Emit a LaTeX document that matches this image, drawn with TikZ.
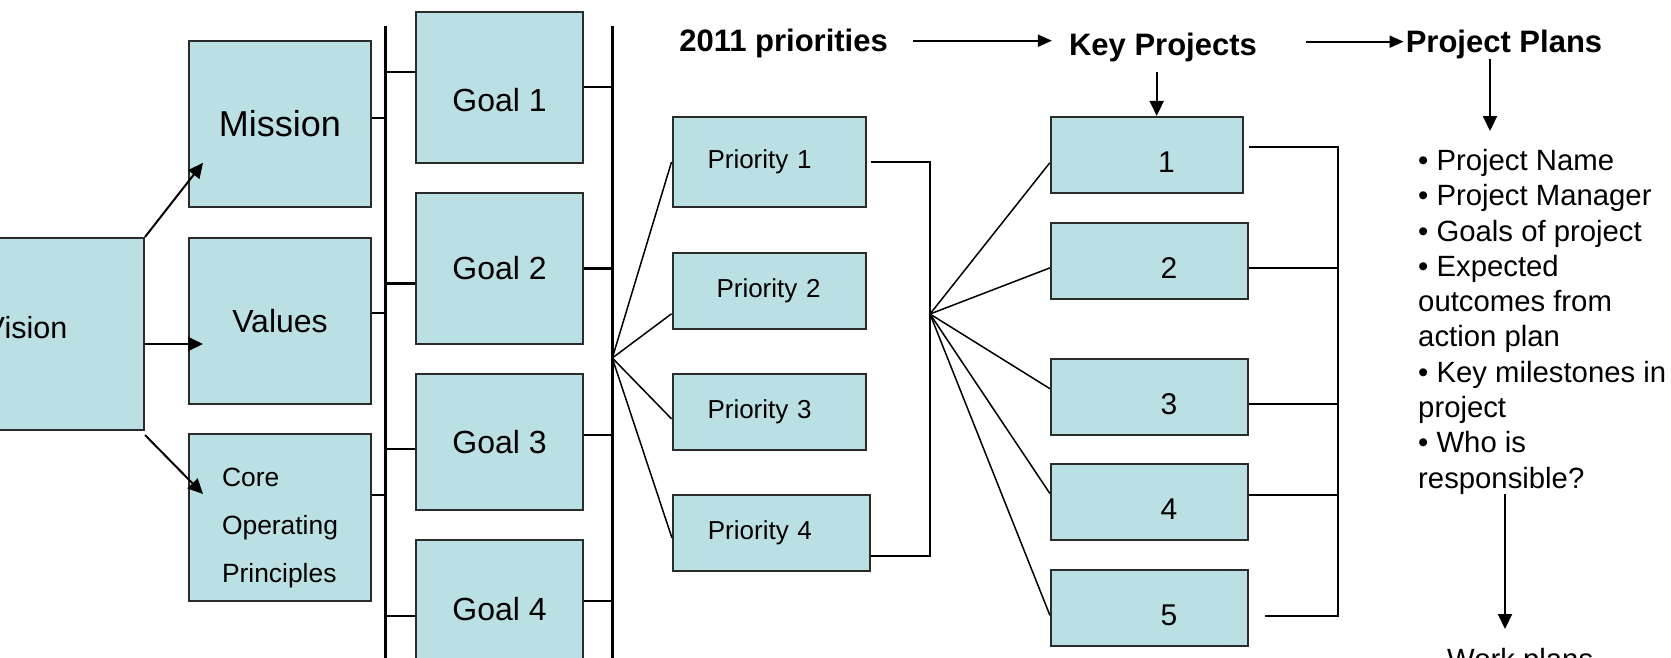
\documentclass[tikz,border=0pt]{standalone}
\usepackage{fontspec}
\setmainfont{Liberation Sans}
\usepackage{tikz}
\usetikzlibrary{positioning,arrows.meta}
\definecolor{boxfill}{HTML}{BBE0E3}
\definecolor{boxline}{HTML}{2B2B2B}
\tikzstyle{box} = [rectangle, draw=boxline, line width=2pt, fill=boxfill, inner sep=0pt]
\tikzstyle{bigbox} = [box, minimum width=182pt, minimum height=166pt, font=\fontsize{32}{38}\selectfont]
\tikzstyle{goalbox} = [box, minimum width=167pt, font=\fontsize{32}{38}\selectfont]
\tikzstyle{priobox} = [box, minimum height=76pt, minimum width=193pt, text width=123pt, align=left, font=\fontsize{26}{31}\selectfont]
\tikzstyle{projbox} = [box, minimum height=76pt, minimum width=197pt, text width=56pt, align=right, text height=35pt, font=\fontsize{30}{36}\selectfont]
\tikzstyle{head} = [inner sep=0pt, anchor=base, font=\bfseries\fontsize{31}{37}\selectfont]
\tikzstyle{bar} = [draw, line width=2.7pt]
\tikzstyle{stub} = [draw, line width=2.2pt]
\tikzstyle{fan} = [draw, line width=1.5pt]
\tikzstyle{line} = [draw, line width=2pt, -{Triangle[length=15pt,width=14pt]}]
\tikzstyle{hline} = [draw, line width=1.7pt, -{Triangle[length=14pt,width=12pt]}]

\begin{document}
\begin{tikzpicture}[x=1pt, y=-1pt]
        \useasboundingbox (0,0) rectangle (1671,657);
        \clip (0,0) rectangle (1671,657);
        % Place nodes
        \node at (26,334) [bigbox, minimum width=236pt, minimum height=192pt, text depth=13pt, font=\fontsize{30.5}{36}\selectfont] (vision) {Vision};
        \node at (280,123.8) [bigbox, font=\fontsize{36}{43}\selectfont] (mission) {Mission};
        \node at (280,321) [bigbox] (values) {Values};
        \node at (280,517.5) [bigbox, minimum height=167pt, align=left, font=\fontsize{26.4}{48}\selectfont] (core) {\rule{0pt}{39pt}Core\\Operating\\Principles};
        \node at (499.5,87) [goalbox, minimum height=151pt, text height=50pt] (goal1) {Goal 1};
        \node at (499.5,268.4) [goalbox, minimum height=151pt] (goal2) {Goal 2};
        \node at (499.5,442) [goalbox, minimum height=136pt] (goal3) {Goal 3};
        \node at (499.5,609) [goalbox, minimum height=138pt] (goal4) {Goal 4};
        \node at (769,162) [priobox, minimum height=90.5pt] (p1) {Priority 1};
        \node at (769,290.8) [priobox, text width=105pt] (p2) {Priority 2};
        \node at (769,411.8) [priobox] (p3) {Priority 3};
        \node at (771.4,532.8) [priobox, minimum width=197pt, text width=127pt] (p4) {Priority 4};
        \node at (1146.7,154.9) [projbox, minimum width=192pt] (k1) {1};
        \node at (1149.4,260.9) [projbox] (k2) {2};
        \node at (1149.4,396.7) [projbox] (k3) {3};
        \node at (1149.4,502) [projbox] (k4) {4};
        \node at (1149.4,608.3) [projbox] (k5) {5};
        \node at (783.6,51.7) [head] (hprio) {2011 priorities};
        \node at (1163,55.3) [head] (hkey) {Key Projects};
        \node at (1504,52.4) [head] (hplans) {Project Plans};
        \node at (1418,149) [anchor=north west, align=left, inner sep=0pt, font=\fontsize{29.3}{35.3}\selectfont] (plist) {• Project Name\\• Project Manager\\• Goals of project\\• Expected\\outcomes from\\action plan\\• Key milestones in\\project\\• Who is\\responsible?};
        \node at (1447,669) [anchor=base west, inner sep=0pt, font=\fontsize{29.3}{35}\selectfont] (work) {Work plans};
        \coordinate (b1top) at (385.6,26);
        \coordinate (b1bot) at (385.6,700);
        \coordinate (b2top) at (612.3,26);
        \coordinate (b2bot) at (612.3,700);
        \coordinate (fan1) at (612.3,358);
        \coordinate (fan2) at (930,314);
        \coordinate (kbar) at (1338,400);
        \coordinate (kpin) at ([xshift=10pt]k1.north);
        \coordinate (ppin) at (1490,131);
        \coordinate (wpin) at (1505,629);

        % Draw edges
        \path [line] (vision.north east) -- ([shift={(15,39)}]mission.west);
        \path [line] ([shift={(0,10)}]vision.east) -- ([shift={(15,23)}]values.west);
        \path [line] ([shift={(0,4)}]vision.south east) -- ([shift={(15,-23.5)}]core.west);
        \path [bar] (b1top) -- (b1bot);
        \path [bar] (b2top) -- (b2bot);
        \path [stub] ([shift={(0,-6)}]mission.east) -- ([shift={(0,-6)}]mission.east -| b1top);
        \path [stub] ([shift={(0,-8)}]values.east) -- ([shift={(0,-8)}]values.east -| b1top);
        \path [stub] ([shift={(0,-22.5)}]core.east) -- ([shift={(0,-22.5)}]core.east -| b1top);
        \path [stub] ([shift={(0,-15)}]goal1.west -| b1top) -- ([shift={(0,-15)}]goal1.west);
        \path [stub] ([shift={(0,15)}]goal2.west -| b1top) -- ([shift={(0,15)}]goal2.west);
        \path [stub] ([shift={(0,7)}]goal3.west -| b1top) -- ([shift={(0,7)}]goal3.west);
        \path [stub] ([shift={(0,7)}]goal4.west -| b1top) -- ([shift={(0,7)}]goal4.west);
        \path [stub] (goal1.east) -- (goal1.east -| b2top);
        \path [stub] (goal2.east) -- (goal2.east -| b2top);
        \path [stub] ([shift={(0,-7)}]goal3.east) -- ([shift={(0,-7)}]goal3.east -| b2top);
        \path [stub] ([shift={(0,-8)}]goal4.east) -- ([shift={(0,-8)}]goal4.east -| b2top);
        \path [fan] (fan1) -- (p1.west);
        \path [fan] (fan1) -- ([shift={(0,23)}]p2.west);
        \path [fan] (fan1) -- ([shift={(0,7)}]p3.west);
        \path [fan] (fan1) -- ([shift={(0,5)}]p4.west);
        \path [stub] ([xshift=4.5pt]p1.east) -| (fan2) |- ([shift={(0,23)}]p4.east);
        \path [fan] (fan2) -- ([shift={(0,8)}]k1.west);
        \path [fan] (fan2) -- ([shift={(0,7)}]k2.west);
        \path [fan] (fan2) -- ([shift={(0,-8)}]k3.west);
        \path [fan] (fan2) -- ([shift={(0,-8.5)}]k4.west);
        \path [fan] (fan2) -- ([shift={(0,7)}]k5.west);
        \path [stub] ([shift={(5,-8)}]k1.east) -| (kbar) |- ([shift={(16,8)}]k5.east);
        \path [stub] ([shift={(0,7)}]k2.east) -- ([shift={(0,7)}]k2.east -| kbar);
        \path [stub] ([shift={(0,7)}]k3.east) -- ([shift={(0,7)}]k3.east -| kbar);
        \path [stub] ([shift={(0,-7)}]k4.east) -- ([shift={(0,-7)}]k4.east -| kbar);
        \path [hline, shorten <=25pt, shorten >=17pt] ([shift={(0,-3)}]hprio.east) -- ([shift={(0,-3)}]hprio.east -| hkey.west);
        \path [hline, shorten <=49pt, shorten >=2pt] ([shift={(0,-2)}]hprio.east -| hkey.east) -- ([shift={(0,-2)}]hprio.east -| hplans.west);
        \path [line, shorten <=10pt] (kpin |- hkey.south) -- (kpin);
        \path [line] (ppin |- hplans.south) -- (ppin);
        \path [line] (wpin |- plist.south) -- (wpin);
\end{tikzpicture}
\end{document}
